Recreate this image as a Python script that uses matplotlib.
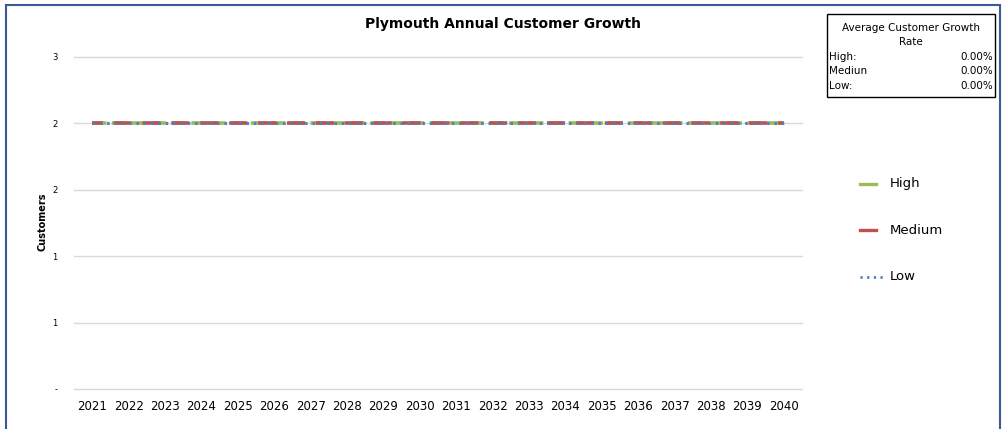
import numpy as np
import matplotlib.pyplot as plt
from matplotlib.patches import Rectangle
from matplotlib.lines import Line2D

years = [str(y) for y in range(2021, 2041)]
high = [2, 2, 2, 2, 2, 2, 2, 2, 2, 2, 2, 2, 2, 2, 2, 2, 2, 2, 2, 2]
medium = [2, 2, 2, 2, 2, 2, 2, 2, 2, 2, 2, 2, 2, 2, 2, 2, 2, 2, 2, 2]
low = [2, 2, 2, 2, 2, 2, 2, 2, 2, 2, 2, 2, 2, 2, 2, 2, 2, 2, 2, 2]
y_ticks = [0, 0.5, 1, 1.5, 2, 2.5]
y_labels = ["-", "1", "1", "2", "2", "3"]
rate_names = ["High:", "Mediun", "Low:"]
rate_values = ["0.00%", "0.00%", "0.00%"]

green = "#9bbb59"
red = "#c0504d"
blue = "#4f81bd"

fig = plt.figure(figsize=(10.03, 4.29), dpi=100)
W, H = 1003, 429
ax = fig.add_axes([74 / W, 1 - 389 / H, (802 - 74) / W, (389 - 57) / H])

x = np.arange(len(years))
ax.plot(x, high, color=green, lw=2.6, ls=(0, (4, 1.5)), label="High")
ax.plot(x, medium, color=red, lw=2.6, ls=(2, (5, 3)), label="Medium")
ax.plot(x, low, color=blue, lw=2.2, ls=(0, (0.8, 1.6)), label="Low")

ax.set_xlim(-0.5, len(years) - 0.5)
ax.set_ylim(0, 2.5)
ax.set_xticks(x)
ax.set_xticklabels(years, fontsize=8.5, family="Liberation Sans Narrow")
ax.set_yticks(y_ticks)
ax.set_yticklabels(y_labels, fontsize=6)
ax.tick_params(length=0, pad=12)
ax.tick_params(axis="x", pad=8)
ax.yaxis.grid(True, color="#d9d9d9", lw=1)
for gl in ax.yaxis.get_gridlines():
    gl.set_clip_on(False)
ax.set_axisbelow(True)
for s in ax.spines.values():
    s.set_visible(False)

fig.text(42 / W, 1 - 222 / H, "Customers", rotation=90, ha="center", va="center",
         fontsize=7, fontweight="bold")
fig.text(503 / W, 1 - 24 / H, "Plymouth Annual Customer Growth", ha="center", va="center",
         fontsize=10, fontweight="bold")

# outer chart frame
fig.patches.append(Rectangle((6 / W, -0.01), (1000 - 6) / W, (1 - 5 / H) + 0.01,
                             transform=fig.transFigure, fill=False,
                             edgecolor="#3a5a9a", lw=1.5))

# rate box
fig.patches.append(Rectangle((827 / W, 1 - 97 / H), (995 - 827) / W, (97 - 14) / H,
                             transform=fig.transFigure, fill=False,
                             edgecolor="black", lw=1))
fig.text(911 / W, 1 - 28 / H, "Average Customer Growth", ha="center", va="center", fontsize=7.5)
fig.text(911 / W, 1 - 42 / H, "Rate", ha="center", va="center", fontsize=7.5)
for i, (n, v) in enumerate(zip(rate_names, rate_values)):
    yy = 1 - (57 + 14.5 * i) / H
    fig.text(829 / W, yy, n, ha="left", va="center", fontsize=7.5)
    fig.text(993 / W, yy, v, ha="right", va="center", fontsize=7.5)

# legend
leg_items = [("High", green, "-", 2.4), ("Medium", red, "-", 2.4), ("Low", blue, (0, (0.8, 1.6)), 2.0)]
for i, (name, c, ls, lw) in enumerate(leg_items):
    yy = 1 - (184 + 46.5 * i) / H
    fig.add_artist(Line2D([860 / W, 876 / W] if i < 2 else [860 / W, 886 / W], [yy, yy],
                          color=c, lw=lw, ls=ls, transform=fig.transFigure))
    fig.text(890 / W, yy, name, ha="left", va="center", fontsize=9.5)

fig.savefig("out.png", dpi=100)
